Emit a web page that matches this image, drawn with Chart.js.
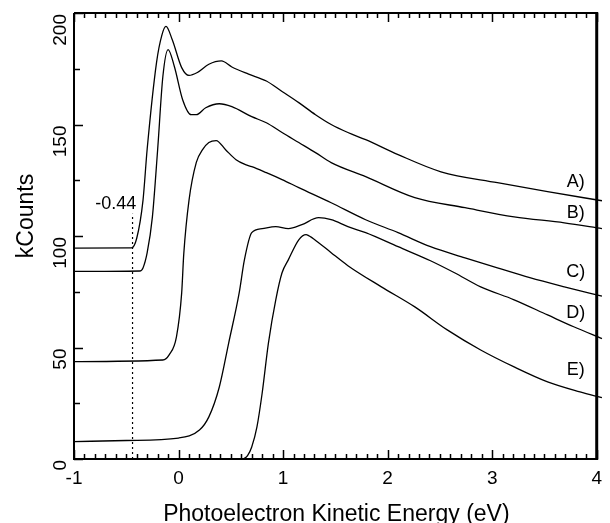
<!DOCTYPE html>
<html>
<head>
<meta charset="utf-8">
<script src="https://cdn.jsdelivr.net/npm/chart.js@4"></script>
<style>
  body { margin: 0; background: #fff; }
  #wrap { position: relative; width: 610px; height: 523px; }
</style>
</head>
<body>
<div id="wrap"><canvas id="chart"></canvas></div>
<script>
// photoemission spectra, kCounts vs kinetic energy (eV)

const xA = [-1, -0.45, -0.40, -0.34, -0.30, -0.21, -0.16, -0.12, -0.06, 0.03, 0.10, 0.18, 0.29, 0.41, 0.51, 0.67, 0.84, 0.99, 1.15, 1.31, 1.46, 1.62, 1.79, 2.10, 2.51, 3.05, 3.53, 4.05];
const yA = [94.6, 94.7, 99, 116, 139, 178, 190, 194, 188, 175.5, 172, 173.3, 177, 178.5, 175.8, 172.6, 169.5, 164.8, 159.8, 154.4, 150, 146.4, 143.2, 136.5, 128.8, 123.9, 119.9, 115.8];

const xB = [-1, -0.37, -0.34, -0.30, -0.25, -0.20, -0.15, -0.10, -0.04, 0.04, 0.12, 0.17, 0.26, 0.39, 0.51, 0.70, 0.84, 0.99, 1.15, 1.31, 1.46, 1.79, 2.26, 2.74, 3.21, 3.69, 4.05];
const yB = [84.1, 84.3, 85.7, 92.5, 108.6, 138.7, 171.5, 183.6, 176, 161, 154.4, 154.4, 157.5, 159.3, 158, 153.5, 150.8, 146.4, 141.9, 137.4, 132.9, 126.6, 117.2, 112.7, 108.6, 105.9, 103.3];

const xC = [-1, -0.15, -0.09, -0.02, 0.03, 0.05, 0.10, 0.17, 0.23, 0.29, 0.36, 0.45, 0.55, 0.64, 0.70, 0.84, 0.99, 1.15, 1.46, 1.79, 2.10, 2.41, 2.74, 3.05, 3.36, 3.69, 4.05];
const yC = [43.7, 44.4, 46.7, 54.8, 74.5, 92, 116, 133, 138.7, 141.9, 142.8, 138.7, 134.2, 132, 131.1, 128.4, 125.3, 121.7, 114.9, 107.3, 101.5, 95.2, 90.2, 85.7, 81.3, 77.2, 73];

const xD = [-1, -0.5, 0.0, 0.2, 0.29, 0.39, 0.48, 0.58, 0.63, 0.70, 0.80, 0.93, 1.05, 1.18, 1.34, 1.46, 1.62, 1.79, 2.10, 2.41, 2.64, 2.89, 3.21, 3.53, 3.78, 4.05];
const yD = [7.8, 8.3, 9.4, 13, 18.9, 32.3, 52.1, 74.5, 89.3, 101.5, 103.3, 104.2, 103.3, 105.1, 108.2, 107.3, 104.2, 101.5, 95.2, 88.9, 83.5, 77.2, 71.4, 64.6, 59.3, 54];

const xE = [0.62, 0.66, 0.70, 0.75, 0.80, 0.86, 0.93, 0.99, 1.05, 1.15, 1.22, 1.24, 1.34, 1.46, 1.62, 1.94, 2.26, 2.57, 2.89, 3.21, 3.53, 3.84, 4.05];
const yE = [0, 1.5, 5.4, 14.4, 29.6, 52.1, 71.4, 83.5, 89.3, 98.3, 100.6, 100.3, 97, 92.5, 86.7, 77.2, 68.2, 57.9, 48.9, 41.3, 34.6, 30.1, 27.5];

// onset marker
const onsetX = [-0.44, -0.44];
const onsetY = [0, 110];
const onsetText = '-0.44';
const onsetTextPos = [-0.60, 114.5];

// curve labels
const curveNames = ['A)', 'B)', 'C)', 'D)', 'E)'];
const curveLabelX = [3.80, 3.80, 3.80, 3.80, 3.80];
const curveLabelY = [124, 110.4, 84, 65.6, 40];

// axes
const xTickLabels = [-1, 0, 1, 2, 3, 4];
const yTickLabels = [0, 50, 100, 150, 200];
const xTitle = 'Photoelectron Kinetic Energy (eV)';
const yTitle = 'kCounts';

const FONT = "'Liberation Sans', Arial, sans-serif";

function pts(xs, ys) {
    return xs.map((x, i) => ({ x: x, y: ys[i] }));
}

function curve(xs, ys) {
    return {
        data: pts(xs, ys),
        borderColor: '#000',
        borderWidth: 1.3,
        pointRadius: 0,
        cubicInterpolationMode: 'monotone',
        clip: { left: 0, top: 0, right: 7, bottom: 0 }
    };
}

const frameAndLabels = {
    id: 'frameAndLabels',
    afterDraw(chart) {
        const { ctx, chartArea: a, scales: { x, y } } = chart;
        ctx.save();
        ctx.strokeStyle = '#000';
        ctx.fillStyle = '#000';

        // box
        ctx.lineWidth = 2;
        ctx.beginPath();
        ctx.moveTo(a.left, a.top); ctx.lineTo(a.left, a.bottom); ctx.lineTo(a.right, a.bottom);
        ctx.moveTo(a.left, a.top); ctx.lineTo(a.right, a.top);
        ctx.stroke();
        ctx.lineWidth = 3;
        ctx.beginPath();
        ctx.moveTo(a.right, a.top - 1); ctx.lineTo(a.right, a.bottom + 1);
        ctx.stroke();

        // inward ticks, bottom and top
        ctx.lineWidth = 1.5;
        ctx.beginPath();
        for (let k = -10; k <= 40; k++) {
            const px = Math.round(x.getPixelForValue(k / 10)) + 0.5;
            const len = k % 10 === 0 ? 9 : 5;
            ctx.moveTo(px, a.bottom); ctx.lineTo(px, a.bottom - len);
            ctx.moveTo(px, a.top); ctx.lineTo(px, a.top + len);
        }
        for (let v = 0; v <= 200; v += 25) {
            const py = Math.round(y.getPixelForValue(v)) + 0.5;
            const len = v % 50 === 0 ? 9 : 6;
            ctx.moveTo(a.left, py); ctx.lineTo(a.left + len, py);
        }
        ctx.stroke();

        // y tick labels, rotated
        ctx.font = '19px ' + FONT;
        ctx.textBaseline = 'middle';
        yTickLabels.forEach(v => {
            ctx.save();
            ctx.translate(61, y.getPixelForValue(v) + 1);
            ctx.rotate(-Math.PI / 2);
            ctx.textAlign = 'right';
            ctx.fillText(String(v), 0, 0);
            ctx.restore();
        });

        // axis titles
        ctx.font = '23px ' + FONT;
        ctx.save();
        ctx.translate(27, 216);
        ctx.rotate(-Math.PI / 2);
        ctx.textAlign = 'center';
        ctx.fillText(yTitle, 0, 0);
        ctx.restore();
        ctx.textAlign = 'center';
        ctx.textBaseline = 'alphabetic';
        ctx.fillText(xTitle, (a.left + a.right) / 2 + 1, 521);

        // curve labels
        ctx.font = '18px ' + FONT;
        ctx.textBaseline = 'middle';
        curveNames.forEach((t, i) => {
            ctx.fillText(t, x.getPixelForValue(curveLabelX[i]), y.getPixelForValue(curveLabelY[i]));
        });
        ctx.font = '18px ' + FONT;
        ctx.fillText(onsetText, x.getPixelForValue(onsetTextPos[0]), y.getPixelForValue(onsetTextPos[1]));

        ctx.restore();
    }
};

new Chart(document.getElementById('chart'), {
    type: 'line',
    data: {
        datasets: [
            curve(xA, yA),
            curve(xB, yB),
            curve(xC, yC),
            curve(xD, yD),
            curve(xE, yE),
            {
                data: pts(onsetX, onsetY),
                borderColor: '#000',
                borderWidth: 1.2,
                borderDash: [2, 3],
                pointRadius: 0
            }
        ]
    },
    options: {
        responsive: true,
        maintainAspectRatio: false,
        animation: false,
        layout: { padding: { top: 13, right: 10, left: 0, bottom: 0 } },
        plugins: { legend: { display: false }, tooltip: { enabled: false } },
        scales: {
            x: {
                type: 'linear',
                min: -1, max: 4,
                grid: { display: false, drawTicks: false },
                border: { display: false },
                ticks: {
                    stepSize: 1,
                    padding: 8,
                    color: '#000',
                    font: { family: FONT, size: 19 },
                    callback: v => xTickLabels.includes(v) ? String(v) : ''
                },
                afterFit: s => { s.height = 64; }
            },
            y: {
                min: 0, max: 200,
                grid: { display: false, drawTicks: false },
                border: { display: false },
                ticks: { display: false },
                afterFit: s => { s.width = 74; }
            }
        }
    },
    plugins: [frameAndLabels]
});
</script>
</body>
</html>
